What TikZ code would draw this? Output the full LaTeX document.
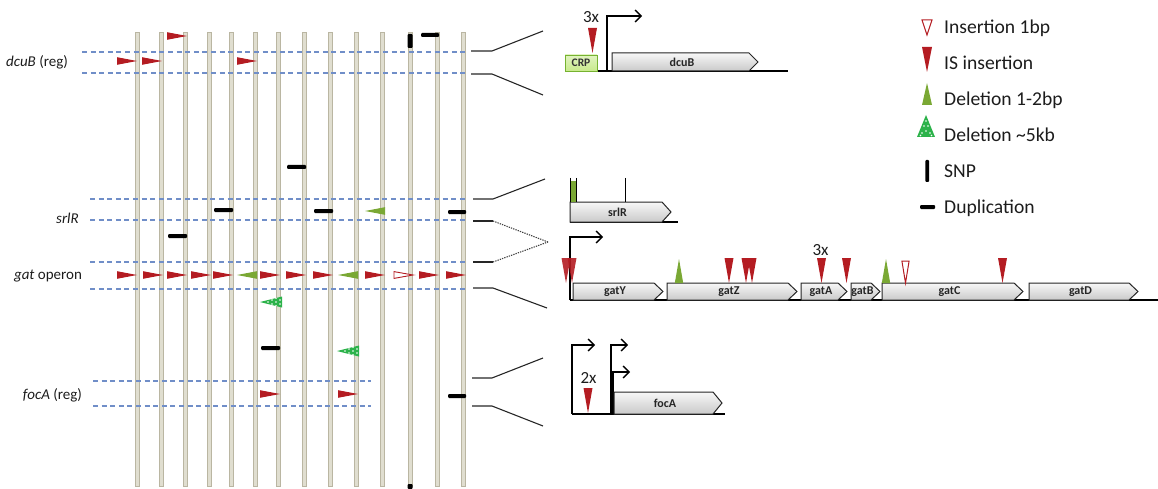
\documentclass[tikz,border=0pt]{standalone}
\usepackage{fontspec}
\setmainfont{Carlito}
\usetikzlibrary{arrows.meta}

\definecolor{isred}{RGB}{180,28,34}
\definecolor{delgreen}{RGB}{122,168,52}
\definecolor{bigreen}{RGB}{44,178,74}
\definecolor{strainfill}{RGB}{224,222,208}
\definecolor{straindraw}{RGB}{186,182,162}
\definecolor{dashblue}{RGB}{112,142,200}
\definecolor{crpfill}{RGB}{200,234,140}
\definecolor{crpdraw}{RGB}{118,178,48}
\definecolor{txt}{RGB}{28,28,28}

% gene body with a pointed 3' end: x1, x2, top, bottom, name
\newcommand{\genearrow}[5]{%
  \draw[genebox] (#1,#3) -- ({#2-9},#3) -- (#2,{(#3+#4)/2}) -- ({#2-9},#4) -- (#1,#4) -- cycle;
  \node[genelabel] (gene-#5) at ({(#1+#2)/2-3},{(#3+#4)/2}) {#5};%
}

\begin{document}
\begin{tikzpicture}[x=1pt,y=-1pt,
  strain/.style={fill=strainfill,draw=straindraw,line width=0.5pt},
  regionline/.style={draw=dashblue,line width=1.1pt,dash pattern=on 5pt off 3.6pt},
  conn/.style={draw=black!85,line width=1.1pt},
  connd/.style={draw=black!75,line width=1.1pt,dash pattern=on 1.3pt off 1.1pt},
  dupbar/.style={fill=black,rounded corners=1pt},
  genebox/.style={draw=black!85,line width=1pt,top color=gray!6,bottom color=gray!42},
  genelabel/.style={font=\fontsize{12}{13}\selectfont\bfseries,text=black!85,inner sep=0pt},
  chrom/.style={draw=black,line width=1.3pt},
  prom/.style={draw=black,line width=1.4pt,-{Straight Barb[length=6pt,width=12pt]}},
  sidelabel/.style={font=\fontsize{15}{17}\selectfont,text=txt,inner sep=0pt},
  legtext/.style={font=\fontsize{19.6}{22}\selectfont,text=txt,inner sep=0pt,anchor=base west},
  count/.style={font=\fontsize{17}{19}\selectfont,text=txt,inner sep=0pt},
  lis/.pic={\fill[isred] (0,0) -- (-20,-3.8) -- (-20,3.8) -- cycle;},
  lins/.pic={\draw[isred,fill=white,line width=0.9pt] (0,0) -- (-19,-3.4) -- (-19,3.4) -- cycle;},
  ldel/.pic={\fill[delgreen] (0,0) -- (20,-3.8) -- (20,3.8) -- cycle;},
  lbig/.pic={\fill[bigreen] (0,0) -- (22,-5.5) -- (22,5.5) -- cycle;
    \foreach \a/\b in {8/0,12/-2,12/2,16/0,16/-3.6,16/3.6,20/-2,20/2}
      \fill[white] (\a,\b) circle (0.8pt);},
  gis/.pic={\fill[isred] (-4.5,-25) -- (4.5,-25) -- (0,0) -- cycle;},
  gins/.pic={\draw[isred,fill=white,line width=1pt] (-3.6,-22) -- (3.6,-22) -- (0,0) -- cycle;},
  gdel/.pic={\fill[delgreen] (-4.2,0) -- (4.2,0) -- (0,-24) -- cycle;}
]
\useasboundingbox (0,0) rectangle (1158,489);

% ---------------- strains ----------------
\foreach \x in {137,161,185,209,231,255,278,304,330,356,382,410,437,463}
  \draw[strain] (\x-2,32) rectangle (\x+2,486);

% region borders
\draw[regionline] (82,52) -- (467,52);
\draw[regionline] (82,73) -- (467,73);
\draw[regionline] (90,199) -- (467,199);
\draw[regionline] (90,220) -- (467,220);
\draw[regionline] (90,262) -- (467,262);
\draw[regionline] (90,289) -- (467,289);
\draw[regionline] (93,381) -- (371,381);
\draw[regionline] (93,406) -- (371,406);

\node[sidelabel] (lab-dcub) at (37,62) {\textit{dcuB} (reg)};
\node[sidelabel] (lab-srlr) at (67.5,218) {\textit{srlR}};
\node[sidelabel] (lab-gat)  at (48,276) {\textit{gat} operon};
\node[sidelabel] (lab-foca) at (52.5,395) {\textit{focA} (reg)};

% dcuB region mutations
\pic at (137,61) {lis};
\pic at (162,61) {lis};
\pic at (187,36) {lis};
\pic at (257,61) {lis};
\fill[black,rounded corners=1pt] (407.5,34) rectangle (412.5,48);
\fill[dupbar] (421,33) rectangle (439,37);

% srlR region and between
\fill[dupbar] (287,165) rectangle (306,169);
\fill[dupbar] (214,208) rectangle (233,212);
\fill[dupbar] (314,209) rectangle (333,213);
\pic at (365,211) {ldel};
\fill[dupbar] (448,210) rectangle (466,214);
\fill[dupbar] (168,234) rectangle (187,238);

% gat operon row
\foreach \t in {137,163,187,211,233,280,306,333,385,439,466}
  \pic at (\t,275) {lis};
\pic at (237,275) {ldel};
\pic at (338,275) {ldel};
\pic at (413,275) {lins};
\pic at (260,302) {lbig};

% below gat
\fill[dupbar] (261,346) rectangle (280,350);
\pic at (337,351) {lbig};
\pic at (280,394) {lis};
\pic at (358,394) {lis};
\fill[dupbar] (448,394) rectangle (466,398);
\fill[black,rounded corners=1pt] (407.5,484) rectangle (412.5,489);

% ---------------- zoom connectors ----------------
\coordinate (dt0) at (471,51);  \coordinate (dt1) at (492,51);  \coordinate (dt2) at (543,31);
\coordinate (db0) at (471,74);  \coordinate (db1) at (492,74);  \coordinate (db2) at (543,95);
\coordinate (st0) at (473,199); \coordinate (st1) at (493,199); \coordinate (st2) at (545,179);
\coordinate (sb0) at (473,221); \coordinate (sb1) at (493,221);
\coordinate (mid) at (548,242);
\coordinate (gt0) at (473,262); \coordinate (gt1) at (493,262);
\coordinate (gb0) at (473,288); \coordinate (gb1) at (493,288); \coordinate (gb2) at (547,308);
\coordinate (ft0) at (472,378); \coordinate (ft1) at (492,378); \coordinate (ft2) at (543,358);
\coordinate (fb0) at (472,406); \coordinate (fb1) at (492,406); \coordinate (fb2) at (543,426);

\draw[conn] (dt0) -- (dt1) -- (dt2);
\draw[conn] (db0) -- (db1) -- (db2);
\draw[conn] (st0) -- (st1) -- (st2);
\draw[conn] (sb0) -- (sb1);
\draw[connd] (sb1) -- (mid);
\draw[conn] (gt0) -- (gt1);
\draw[connd] (gt1) -- (mid);
\draw[conn] (gb0) -- (gb1) -- (gb2);
\draw[conn] (ft0) -- (ft1) -- (ft2);
\draw[conn] (fb0) -- (fb1) -- (fb2);

% ---------------- dcuB locus ----------------
\draw[chrom] (597,71) -- (788,71);
\node[draw=crpdraw,line width=0.9pt,top color=crpfill!55!white,bottom color=crpfill,
      minimum width=32pt,minimum height=16pt,inner sep=0pt,
      font=\fontsize{11.5}{12}\selectfont\bfseries,text=black!80] (crp) at (581,63) {CRP};
\draw[prom] (607,71) |- (642,16);
\genearrow{612}{758}{53}{71}{dcuB}
\pic at (592.5,53) {gis};
\node[count] (cnt-dcub) at (591,17) {3x};

% ---------------- srlR locus ----------------
\draw[chrom] (570,222) -- (678,222);
\genearrow{570}{671}{202}{222}{srlR}
\fill[delgreen] (571.3,181) rectangle (575.5,202);
\draw[line width=1pt] (570.7,178) -- (570.7,202);
\draw[line width=1pt] (576,178) -- (576,202);
\draw[line width=1pt] (625,178) -- (625,202);

% ---------------- gat operon ----------------
\draw[chrom] (570,300) -- (1158,300);
\draw[prom] (570,300) |- (603,237);
\genearrow{573}{663}{283}{300}{gatY}
\genearrow{667}{797}{283}{300}{gatZ}
\genearrow{801}{847}{283}{300}{gatA}
\genearrow{851}{880}{283}{300}{gatB}
\genearrow{882}{1023}{283}{300}{gatC}
\genearrow{1029}{1138}{283}{300}{gatD}
\begin{scope}[opacity=0.9]
\pic at (566,283) {gis};
\pic at (572,283) {gis};
\end{scope}
\pic at (679,283) {gdel};
\pic at (729,283) {gis};
\pic at (746,283) {gis};
\pic at (752,283) {gis};
\pic at (821.5,283) {gis};
\pic at (846.5,283) {gis};
\pic at (886,283) {gdel};
\pic at (905.5,283) {gins};
\pic at (1002.5,283) {gis};
\node[count] (cnt-gata) at (820.5,250) {3x};

% ---------------- focA locus ----------------
\draw[chrom] (572,414) -- (725,414);
\draw[prom] (572,414) |- (595,345);
\draw[prom] (611,414) |- (628,345);
\draw[prom] (613,414) |- (630,372);
\genearrow{614}{722}{392}{414}{focA}
\pic at (588,413) {gis};
\node[count] (cnt-foca) at (588.5,377.5) {2x};

% ---------------- key ----------------
\draw[isred,fill=white,line width=1pt] (922,20) -- (932,20) -- (927,35) -- cycle;
\fill[isred] (922,47) -- (932,47) -- (927,72) -- cycle;
\fill[delgreen] (922,105) -- (932,105) -- (927,83) -- cycle;
\fill[bigreen] (917,137) -- (935,137) -- (926,115) -- cycle;
\foreach \a/\b in {926/121,924/126,928/126,926/131,922/133,930/133,920.5/135.5,931.5/135.5}
  \fill[white] (\a,\b) circle (0.8pt);
\fill[black,rounded corners=1pt] (925.3,160) rectangle (929,182);
\fill[dupbar] (920,205) rectangle (935,209);

\node[legtext] (key-ins) at (944,33.3) {Insertion 1bp};
\node[legtext] (key-is)  at (944,69.3) {IS insertion};
\node[legtext] (key-d1)  at (944,105.5) {Deletion 1-2bp};
\node[legtext] (key-d5)  at (944,141.5) {Deletion \textasciitilde5kb};
\node[legtext] (key-snp) at (944,177.5) {SNP};
\node[legtext] (key-dup) at (944,213) {Duplication};
\end{tikzpicture}
\end{document}
